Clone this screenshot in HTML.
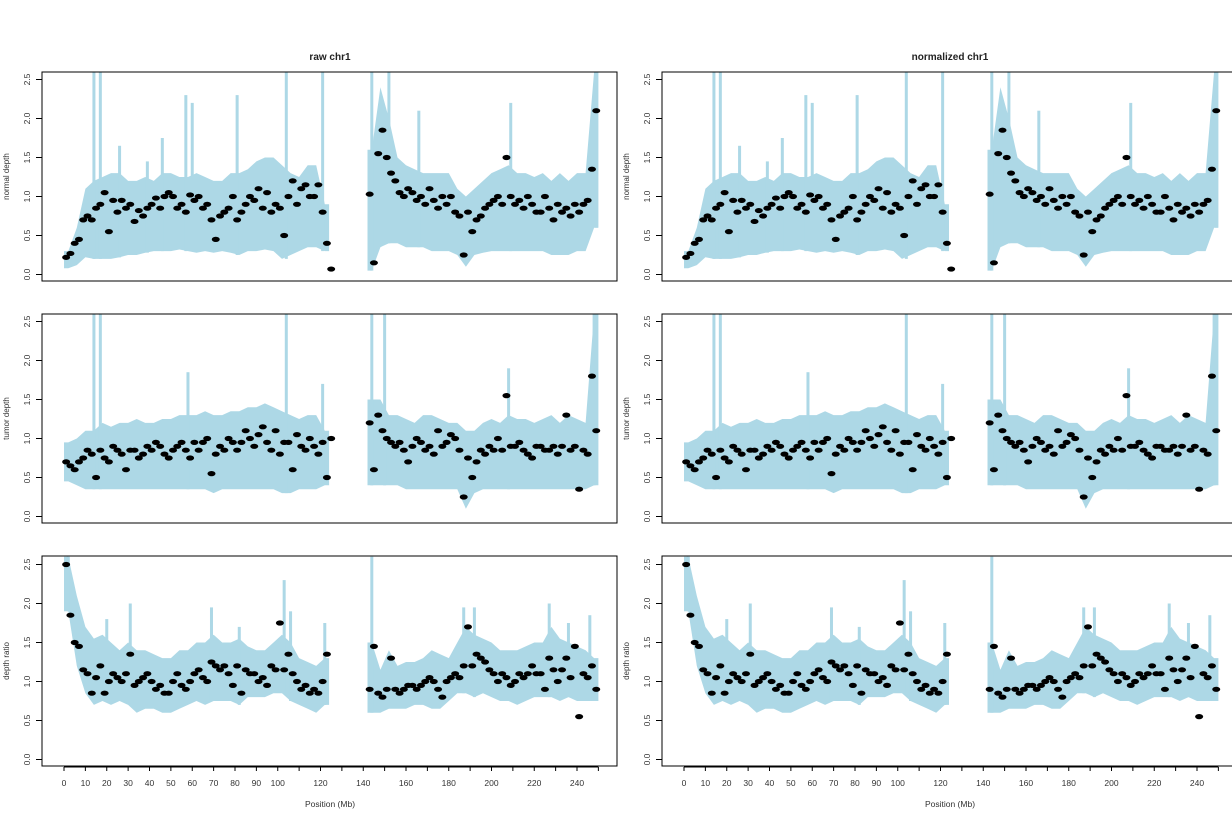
<!DOCTYPE html>
<html><head><meta charset="utf-8"><style>
body{margin:0;background:#fff;}
svg{display:block;font-family:"Liberation Sans",Arial,sans-serif;}
</style></head><body>
<svg id="chart" width="1232" height="815" viewBox="0 0 1232 815"></svg>
<script>
const binPos=[2,6,10,14,18,22,26,30,34,38,42,46,50,54,58,62,66,70,74,78,82,86,90,94,98,102,106,110,114,118,122,
144,148,152,156,160,164,168,172,176,180,184,188,192,196,200,204,208,212,216,220,224,228,232,236,240,244,248];
const normalLo=[.08,.12,.22,.2,.2,.2,.22,.25,.25,.28,.3,.3,.3,.32,.3,.28,.3,.28,.3,.28,.25,.3,.3,.32,.3,.2,.25,.3,.35,.35,.3,
.05,.35,.4,.4,.35,.35,.35,.3,.3,.3,.25,.1,.25,.28,.3,.3,.3,.3,.3,.3,.3,.25,.25,.25,.3,.3,.6];
const normalHi=[.3,.6,1.1,1.2,1.25,1.3,1.3,1.2,1.2,1.25,1.2,1.3,1.3,1.25,1.25,1.3,1.25,1.2,1.2,1.3,1.3,1.35,1.45,1.5,1.5,1.4,1.3,1.25,1.4,1.4,.9,
1.6,2.4,2.0,1.5,1.4,1.35,1.3,1.3,1.3,1.3,1.1,1.0,1.1,1.2,1.3,1.35,1.4,1.3,1.3,1.25,1.3,1.2,1.3,1.2,1.3,1.3,2.6];
const normalD1=[.22,.4,.7,.7,.9,.55,.8,.85,.68,.75,.9,.85,1.05,.85,.8,.95,.85,.7,.75,.85,.7,.9,.95,.85,.8,.85,1.0,.9,1.15,1.0,.8,
1.03,1.55,1.5,1.2,1.0,1.05,1.0,1.1,.85,.9,.8,.25,.55,.75,.9,1.0,1.5,.9,.85,.9,.8,.85,.9,.85,.9,.9,1.35];
const normalD2=[.27,.45,.75,.85,1.05,.95,.95,.9,.82,.85,.98,1.0,1.0,.9,1.02,1.0,.9,.45,.8,1.0,.8,1.0,1.1,1.05,.9,.5,1.2,1.1,1.0,1.15,.4,
.15,1.85,1.3,1.05,1.1,.95,.9,.95,1.0,1.0,.75,.8,.7,.85,.95,.9,1.0,.95,1.0,.8,1.0,.7,.8,.75,.8,.95,2.1];
const normalSpikes=[[14,2.6],[17,2.6],[26,1.65],[39,1.45],[46,1.75],[57,2.3],[60,2.2],[81,2.3],[104,2.6],[121,2.6],[144,2.6],[152,2.6],[166,2.1],[209,2.2],[249,2.6]];
const tumorLo=[.45,.4,.35,.35,.35,.35,.35,.35,.35,.35,.35,.35,.35,.35,.35,.35,.35,.3,.35,.35,.35,.35,.35,.35,.35,.3,.3,.35,.35,.35,.4,
.4,.4,.4,.4,.35,.35,.35,.35,.35,.35,.35,.1,.3,.35,.35,.35,.35,.35,.35,.35,.35,.35,.35,.35,.35,.35,.4];
const tumorHi=[.95,1.0,1.1,1.1,1.2,1.15,1.2,1.2,1.25,1.2,1.2,1.25,1.25,1.3,1.3,1.3,1.35,1.3,1.3,1.35,1.35,1.4,1.4,1.45,1.4,1.35,1.3,1.25,1.3,1.3,1.1,
1.5,1.5,1.3,1.3,1.25,1.2,1.3,1.3,1.25,1.2,1.2,1.1,1.1,1.2,1.25,1.2,1.3,1.25,1.25,1.2,1.25,1.3,1.2,1.3,1.25,1.2,2.6];
const tumorD1=[.7,.6,.75,.8,.85,.7,.85,.6,.85,.8,.85,.9,.75,.9,.85,.95,.95,.55,.9,1.0,.85,1.1,.9,1.15,.85,.8,.95,1.05,.85,.9,.95,
1.2,1.3,1.0,.9,.85,.9,.95,.9,1.1,.95,1.0,.25,.5,.85,.9,1.0,1.55,.9,.85,.75,.9,.85,.8,1.3,.9,.85,1.8];
const tumorD2=[.65,.7,.85,.5,.75,.9,.8,.85,.75,.9,.95,.8,.85,.95,.75,.85,1.0,.8,.85,.95,.95,1.0,1.05,.95,1.1,.95,.6,.9,1.0,.8,.5,
.6,1.1,.95,.95,.7,1.0,.85,.8,.9,1.05,.85,.75,.7,.8,.85,.85,.9,.95,.8,.9,.85,.9,.9,.85,.35,.8,1.1];
const tumorSpikes=[[14,2.6],[17,2.6],[58,1.85],[104,2.6],[121,1.7],[144,2.6],[150,2.6],[208,1.9],[248,2.6]];
const ratioLo=[1.9,1.2,.85,.7,.75,.7,.75,.7,.6,.65,.65,.6,.6,.65,.7,.75,.7,.75,.75,.75,.7,.8,.8,.8,.85,.85,.75,.7,.65,.6,.7,
.6,.6,.65,.65,.65,.7,.7,.65,.65,.75,.85,.85,.8,.85,.8,.75,.75,.7,.75,.8,.8,.8,.75,.8,.75,.75,.75];
const ratioHi=[2.6,2.1,1.7,1.55,1.6,1.5,1.4,1.5,1.4,1.4,1.35,1.3,1.3,1.4,1.4,1.5,1.5,1.6,1.5,1.5,1.55,1.45,1.4,1.4,1.5,1.6,1.5,1.3,1.25,1.2,1.3,
1.5,1.15,1.4,1.2,1.25,1.25,1.3,1.4,1.35,1.3,1.5,1.7,1.6,1.55,1.5,1.4,1.4,1.4,1.45,1.5,1.5,1.7,1.55,1.5,1.45,1.4,1.3];
const ratioD1=[2.5,1.5,1.15,.85,1.2,1.0,1.05,1.1,.95,1.05,1.0,.95,.85,1.1,.9,1.1,1.05,1.25,1.15,1.1,1.2,1.15,1.1,1.05,1.2,1.75,1.35,1.0,.95,.9,1.0,
.9,.85,.9,.9,.9,.95,.95,1.05,.9,1.0,1.1,1.2,1.2,1.3,1.15,1.0,1.05,1.0,1.05,1.2,1.1,1.3,1.0,1.3,1.45,1.1,1.2];
const ratioD2=[1.85,1.45,1.1,1.05,.85,1.1,1.0,1.35,1.0,1.1,.9,.85,1.0,.95,1.0,1.15,1.0,1.2,1.2,.95,.85,1.1,1.0,.95,1.15,1.15,1.1,.9,.85,.85,1.35,
1.45,.8,1.3,.85,.95,.9,1.0,1.0,.8,1.05,1.05,1.7,1.35,1.25,1.1,1.1,.95,1.1,1.1,1.1,.9,1.15,1.15,1.05,.55,1.05,.9];
const ratioSpikes=[[2,2.6],[20,1.8],[31,2.0],[69,1.95],[82,1.7],[103,2.3],[106,1.9],[122,1.75],[144,2.6],[187,1.95],[192,1.95],[227,2.0],[236,1.75],[246,1.85]];
const yTicks=[0,0.5,1,1.5,2,2.5];
const xTicks=[0,10,20,30,40,50,60,70,80,90,100,110,120,130,140,150,160,170,180,190,200,210,220,230,240,250];
const xLabels=[0,10,20,30,40,50,60,70,80,90,100,120,140,160,180,200,220,240];

const NS="http://www.w3.org/2000/svg";
const svg=document.getElementById('chart');
function mk(tag,attrs,parent){const e=document.createElementNS(NS,tag);for(const k in attrs)e.setAttribute(k,attrs[k]);(parent||svg).appendChild(e);return e;}

const rows=[
 {top:72,bot:281,label:'normal depth',lo:normalLo,hi:normalHi,d1:normalD1,d2:normalD2,sp:normalSpikes,extra:[[125,.07]]},
 {top:314,bot:523,label:'tumor depth',lo:tumorLo,hi:tumorHi,d1:tumorD1,d2:tumorD2,sp:tumorSpikes,extra:[[125,1.0]]},
 {top:556,bot:766,label:'depth ratio',lo:ratioLo,hi:ratioHi,d1:ratioD1,d2:ratioD2,sp:ratioSpikes,extra:[]}
];
const cols=[{left:42,title:'raw chr1'},{left:662,title:'normalized chr1'}];
const W=575;

cols.forEach((c,ci)=>{
  const xs=p=>c.left+22+p*2.1375;
  const t=mk('text',{x:c.left+288,y:60,'text-anchor':'middle','font-size':10,'font-weight':'bold',fill:'#222'});
  t.textContent=c.title;
  
  
  rows.forEach((r,ri)=>{
    const ys=v=>r.bot-6.5-v*78;
    const g=mk('g',{});
    
    
    const cid='clip'+ci+ri;
    const cp=mk('clipPath',{id:cid},g);mk('rect',{x:c.left,y:r.top,width:W,height:r.bot-r.top},cp);
    const dg=mk('g',{'clip-path':'url(#'+cid+')'},g);
    // two arm polygons (split at the centromere gap)
    const arms=[binPos.map((p,i)=>i).filter(i=>binPos[i]<130),binPos.map((p,i)=>i).filter(i=>binPos[i]>130)];
    arms.forEach(idx=>{
      const top=[],bot=[];
      idx.forEach((i,k)=>{
        const p=binPos[i];
        const x1=k===0?xs(p-2):xs(p), x2=k===idx.length-1?xs(p+2):xs(p);
        if(k===0) top.push([x1,ys(r.hi[i])]);
        top.push([xs(p),ys(r.hi[i])]);
        if(k===idx.length-1) top.push([x2,ys(r.hi[i])]);
      });
      idx.slice().reverse().forEach((i,k)=>{
        const p=binPos[i];
        if(k===0) bot.push([xs(p+2),ys(r.lo[i])]);
        bot.push([xs(p),ys(r.lo[i])]);
        if(k===idx.length-1) bot.push([xs(p-2),ys(r.lo[i])]);
      });
      const pg=mk('polygon',{points:top.concat(bot).map(q=>q[0].toFixed(1)+','+q[1].toFixed(1)).join(' '),fill:'#add8e6'},dg);
      
      
    });
    r.sp.forEach(s=>{
      const i=binPos.reduce((bi,p,k)=>Math.abs(p-s[0])<Math.abs(binPos[bi]-s[0])?k:bi,0);
      const l=mk('rect',{x:xs(s[0])-1.5,y:ys(s[1]),width:3,height:ys(r.lo[i])-ys(s[1]),fill:'#add8e6'},dg);
      
      
    });
    binPos.forEach((p,i)=>{
      [[p-1,r.d1[i]],[p+1,r.d2[i]]].forEach(d=>{
        const e=mk('ellipse',{cx:xs(d[0]),cy:ys(d[1]),rx:4,ry:2.6,fill:'#000'},dg);
        
        
      });
    });
    r.extra.forEach(d=>{
      const e=mk('ellipse',{cx:xs(d[0]),cy:ys(d[1]),rx:4,ry:2.6,fill:'#000'},dg);
      
      
    });
    mk('rect',{x:c.left,y:r.top,width:W,height:r.bot-r.top,fill:'none',stroke:'#000','stroke-width':1},g);
    yTicks.forEach(v=>{
      const y=ys(v);
      mk('line',{x1:c.left-6,x2:c.left,y1:y,y2:y,stroke:'#000'},g);
      const tx=c.left-12;
      const tl=mk('text',{x:tx,y:y,'font-size':8.5,fill:'#333','text-anchor':'middle',transform:`rotate(-90 ${tx} ${y})`},g);
      tl.textContent=v.toFixed(1);
      
      
    });
    const lx=c.left-33, ly=(r.top+r.bot)/2;
    const yl=mk('text',{x:lx,y:ly,'font-size':8,fill:'#333','text-anchor':'middle',transform:`rotate(-90 ${lx} ${ly})`},g);
    yl.textContent=r.label;
    
    
    if(ri===2){
      mk('line',{x1:xs(0),x2:xs(250),y1:r.bot+1,y2:r.bot+1,stroke:'#000'},g);
      xTicks.forEach(v=>mk('line',{x1:xs(v),x2:xs(v),y1:r.bot+1,y2:r.bot+5,stroke:'#000'},g));
      xLabels.forEach(v=>{
        const xl=mk('text',{x:xs(v),y:r.bot+20,'font-size':8.5,fill:'#333','text-anchor':'middle'},g);
        xl.textContent=v;
        
        
      });
      const xt=mk('text',{x:c.left+288,y:807,'font-size':8.5,fill:'#333','text-anchor':'middle'},g);
      xt.textContent='Position (Mb)';
      
      
    }
  });
});
</script>
</body></html>
